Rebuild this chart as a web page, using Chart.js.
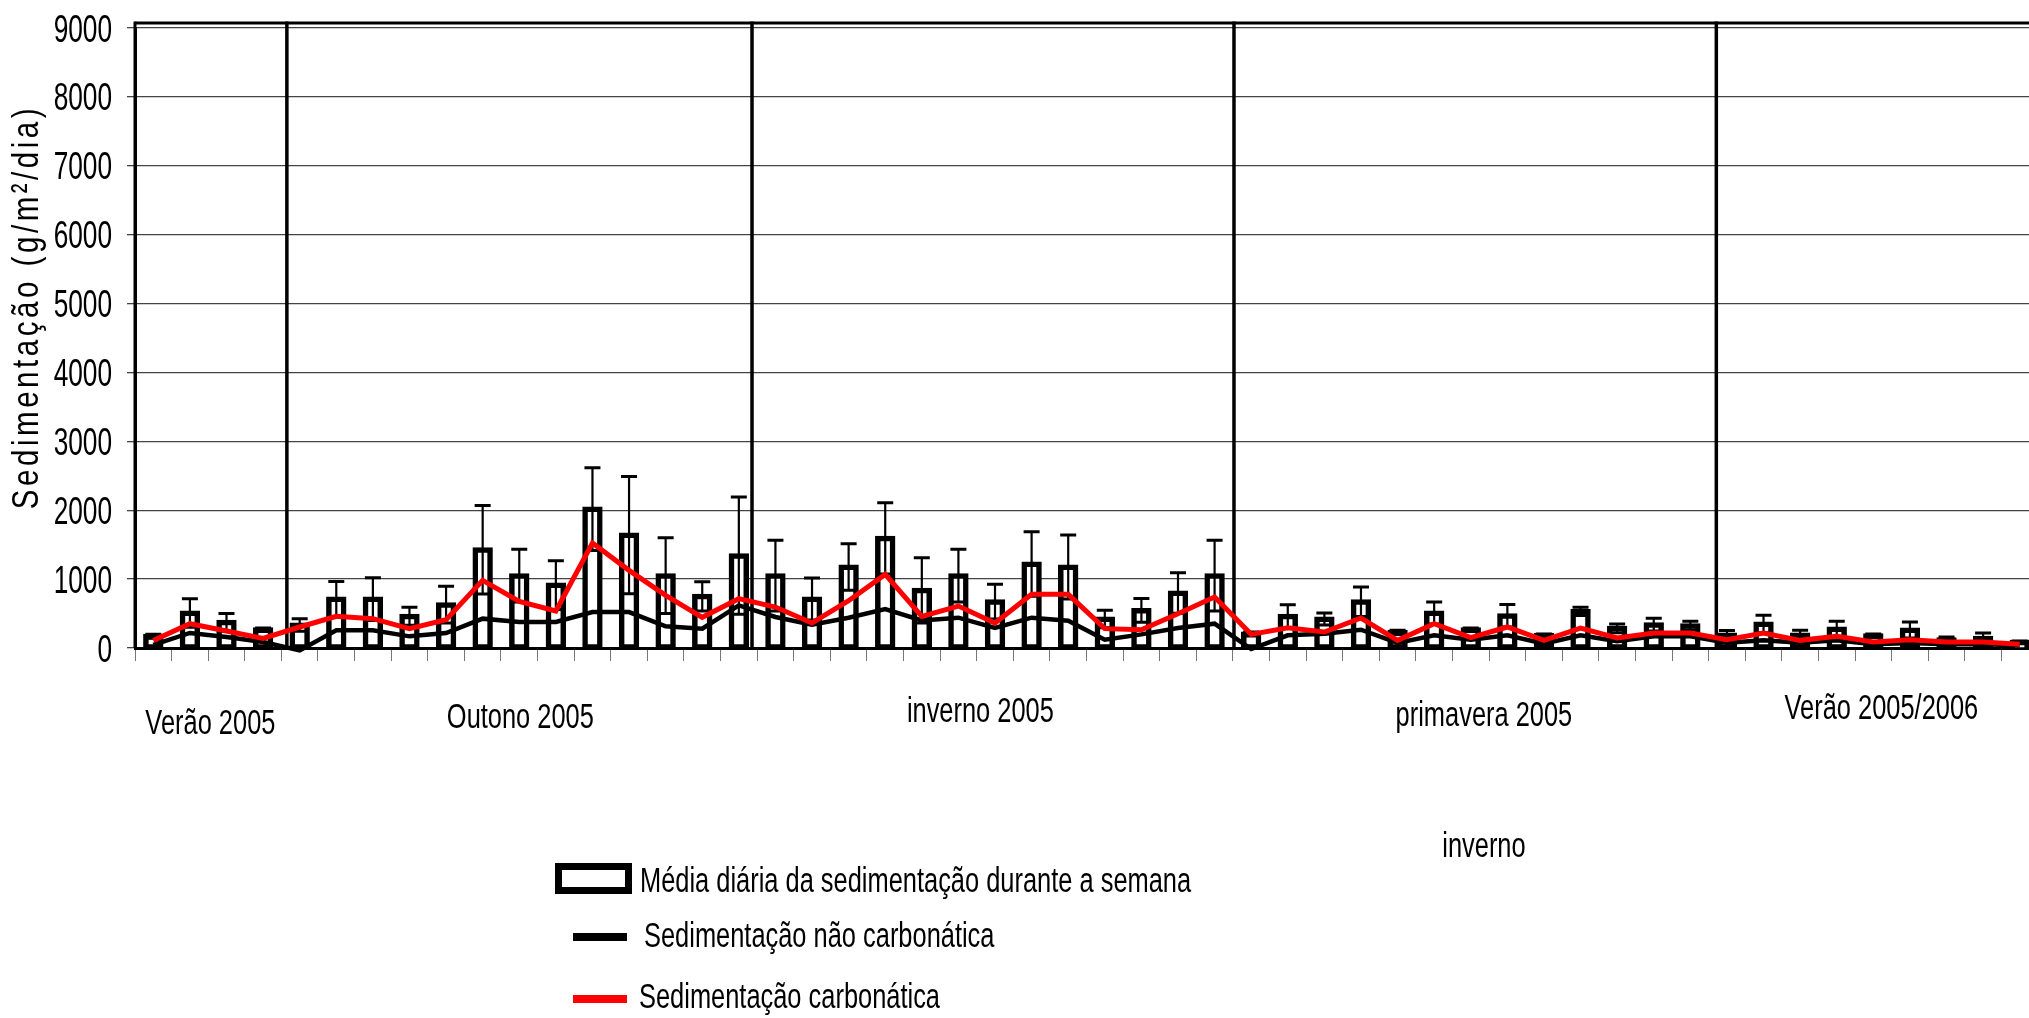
<!DOCTYPE html>
<html lang="pt">
<head>
<meta charset="utf-8">
<title>Sedimentação semanal 2005–2006</title>
<script src="https://cdn.jsdelivr.net/npm/chart.js@4.4.1/dist/chart.umd.min.js"></script>
<style>
  html, body { margin: 0; padding: 0; background: #fff; overflow: hidden; }
  #wrap { width: 2040px; height: 1018px; }
</style>
</head>
<body>
<div id="wrap"><canvas id="c" width="2040" height="1018"></canvas></div>
<script>
// Weekly samples (one per week, summer 2005 to summer 2005/2006)
const weeks = ['1','2','3','4','5','6','7','8','9','10','11','12','13','14','15','16','17','18','19','20',
  '21','22','23','24','25','26','27','28','29','30','31','32','33','34','35','36','37','38','39','40',
  '41','42','43','44','45','46','47','48','49','50','51','52'];

// Mean daily sedimentation during the week (g/m²/dia)
const weeklyMean = [170, 508, 372, 266, 334, 711, 711, 460, 629, 1427, 1050, 914, 2017, 1640, 1050, 750,
  1340, 1050, 711, 1176, 1592, 837, 1050, 672, 1219, 1176, 421, 546, 798, 1050, 203, 460, 421, 672,
  227, 508, 266, 469, 184, 530, 285, 339, 324, 190, 348, 188, 276, 179, 261, 121, 140, 82];

// Standard deviation of the weekly mean
const weeklyError = [30, 208, 130, 25, 92, 256, 310, 130, 266, 643, 382, 354, 600, 851, 551, 213,
  851, 513, 305, 339, 518, 474, 382, 252, 469, 464, 126, 174, 295, 513, 30, 169, 87, 213,
  30, 160, 25, 164, 20, 60, 63, 92, 63, 65, 126, 68, 111, 25, 116, 40, 77, 20];

// Non-carbonate fraction
const nonCarbonate = [45, 218, 160, 87, -35, 256, 256, 169, 218, 426, 377, 377, 522, 522, 314, 280,
  619, 450, 339, 440, 566, 401, 440, 290, 440, 397, 121, 198, 290, 353, -15, 184, 208, 266,
  73, 184, 121, 184, 63, 184, 97, 169, 169, 77, 111, 77, 111, 53, 73, 53, 53, 39];

// Carbonate fraction
const carbonate = [110, 353, 247, 140, 305, 460, 426, 281, 411, 982, 677, 537, 1524, 1127, 764, 446,
  716, 595, 363, 687, 1069, 460, 609, 363, 779, 779, 281, 266, 498, 740, 198, 295, 232, 435,
  111, 353, 150, 305, 111, 290, 145, 218, 218, 120, 218, 111, 169, 87, 121, 87, 87, 53];

// Y axis ticks
const yTicks = [0, 1000, 2000, 3000, 4000, 5000, 6000, 7000, 8000, 9000];

// Season boundaries, in week-index units
const seasonBreaks = [3.65, 16.36, 29.53, 42.71];

// Season captions
const seasonNames = ['Verão 2005', 'Outono 2005', 'inverno 2005', 'primavera 2005', 'Verão 2005/2006', 'inverno'];
// where each caption sits: week-index centre and text baseline (px)
const seasonAnchors = [
  { at: 1.56, base: 734 }, { at: 10.03, base: 728 }, { at: 22.6, base: 722 },
  { at: 36.36, base: 726 }, { at: 47.22, base: 719 }, { at: 36.36, base: 857 }
];

const legendItems = ['Média diária da sedimentação durante a semana', 'Sedimentação não carbonática', 'Sedimentação carbonática'];
const yTitle = 'Sedimentação (g/m²/dia)';

// condensed text: Liberation Sans squeezed horizontally
const FONT = '"Liberation Sans", Arial, sans-serif';
const SQUEEZE = 0.82;

function condensedText(ctx, text, x, base, size, sy, align) {
  ctx.save();
  ctx.font = size + 'px ' + FONT;
  ctx.textAlign = align || 'left';
  ctx.textBaseline = 'alphabetic';
  ctx.translate(x, base);
  ctx.scale(SQUEEZE, sy);
  ctx.fillText(text, 0, 0);
  ctx.restore();
}

const decorations = {
  id: 'decorations',
  beforeDatasetsDraw(chart) {
    const { ctx, chartArea: a, scales: { x } } = chart;
    ctx.save();
    ctx.strokeStyle = '#000';
    ctx.lineWidth = 3;
    ctx.beginPath();
    ctx.moveTo(a.left, a.top - 5);
    ctx.lineTo(a.right, a.top - 5);
    ctx.stroke();
    ctx.beginPath();
    ctx.moveTo(a.left, a.top - 6.5);
    ctx.lineTo(a.left, a.bottom);
    ctx.stroke();
    ctx.lineWidth = 3.5;
    seasonBreaks.forEach(v => {
      const px = x.getPixelForValue(v);
      ctx.beginPath();
      ctx.moveTo(px, a.top - 6.5);
      ctx.lineTo(px, a.bottom);
      ctx.stroke();
    });
    ctx.restore();
  },
  afterDatasetDraw(chart, args) {
    if (args.index !== 0) return;
    const { ctx, scales: { y } } = chart;
    const meta = chart.getDatasetMeta(0);
    ctx.save();
    ctx.strokeStyle = '#000';
    meta.data.forEach((bar, i) => {
      const m = weeklyMean[i], e = weeklyError[i];
      const yHi = y.getPixelForValue(m + e);
      const yLo = y.getPixelForValue(Math.max(0, m - e));
      const cx = bar.x;
      ctx.lineWidth = 2.2;
      ctx.beginPath();
      ctx.moveTo(cx, yHi);
      ctx.lineTo(cx, yLo);
      ctx.stroke();
      ctx.lineWidth = 3;
      ctx.beginPath();
      ctx.moveTo(cx - 8, yHi); ctx.lineTo(cx + 8, yHi);
      ctx.moveTo(cx - 8, yLo); ctx.lineTo(cx + 8, yLo);
      ctx.stroke();
    });
    ctx.restore();
  },
  afterDraw(chart) {
    const { ctx, chartArea: a, scales: { x, y } } = chart;
    ctx.save();
    ctx.fillStyle = '#000';

    // y tick labels
    yTicks.forEach(v => {
      condensedText(ctx, String(v), a.left - 23, y.getPixelForValue(v) + 13.5, 32, 1.2, 'right');
    });

    // season captions
    seasonNames.forEach((t, i) => {
      const an = seasonAnchors[i];
      condensedText(ctx, t, x.getPixelForValue(an.at), an.base, 31, 1.12, 'center');
    });

    // legend
    ctx.strokeStyle = '#000';
    ctx.lineWidth = 7;
    ctx.fillStyle = '#fff';
    ctx.fillRect(558.5, 866.5, 70, 24);
    ctx.strokeRect(558.5, 866.5, 70, 24);
    ctx.fillStyle = '#000';
    ctx.fillRect(573, 933, 54, 8);
    ctx.fillStyle = '#ff0000';
    ctx.fillRect(573, 995, 54, 8);
    ctx.fillStyle = '#000';
    condensedText(ctx, legendItems[0], 640, 892, 31, 1.12);
    condensedText(ctx, legendItems[1], 644, 947, 31, 1.12);
    condensedText(ctx, legendItems[2], 639, 1008, 31, 1.12);

    // y axis title
    ctx.save();
    ctx.font = '36px ' + FONT;
    ctx.letterSpacing = '4.3px';
    ctx.textAlign = 'center';
    ctx.textBaseline = 'middle';
    ctx.translate(28, 307);
    ctx.rotate(-Math.PI / 2);
    ctx.scale(SQUEEZE, 1.05);
    ctx.fillText(yTitle, 0, 0);
    ctx.restore();

    ctx.restore();
  }
};

new Chart(document.getElementById('c'), {
  data: {
    labels: weeks,
    datasets: [
      {
        type: 'bar',
        label: legendItems[0],
        data: weeklyMean,
        backgroundColor: '#ffffff',
        borderColor: '#000000',
        borderWidth: 5.5,
        borderSkipped: false,
        inflateAmount: 2.5,
        barPercentage: 0.42,
        categoryPercentage: 1.0,
        order: 3
      },
      {
        type: 'line',
        label: legendItems[1],
        data: nonCarbonate,
        borderColor: '#000000',
        borderWidth: 4.5,
        pointRadius: 0,
        tension: 0,
        clip: false,
        order: 2
      },
      {
        type: 'line',
        label: legendItems[2],
        data: carbonate,
        borderColor: '#ff0000',
        borderWidth: 5,
        pointRadius: 0,
        tension: 0,
        clip: false,
        order: 1
      }
    ]
  },
  options: {
    responsive: false,
    animation: false,
    devicePixelRatio: 1,
    layout: { padding: { top: 28, right: 2, bottom: 0, left: 0 } },
    plugins: { legend: { display: false }, tooltip: { enabled: false } },
    scales: {
      x: {
        type: 'category',
        offset: true,
        grid: { display: true, drawOnChartArea: false, drawTicks: true, tickLength: 13, color: '#777', lineWidth: 1, offset: true },
        border: { display: true, color: '#000', width: 3 },
        ticks: { display: false },
        afterFit(s) { s.height = 370; }
      },
      y: {
        min: 0,
        max: 9000,
        afterBuildTicks(s) { s.ticks = yTicks.map(v => ({ value: v })); },
        grid: { color: '#444', lineWidth: 1.3, tickLength: 8, drawTicks: true },
        border: { display: true, color: '#000', width: 3 },
        ticks: { display: false },
        afterFit(s) { s.width = 135; }
      }
    }
  },
  plugins: [decorations]
});
</script>
</body>
</html>
